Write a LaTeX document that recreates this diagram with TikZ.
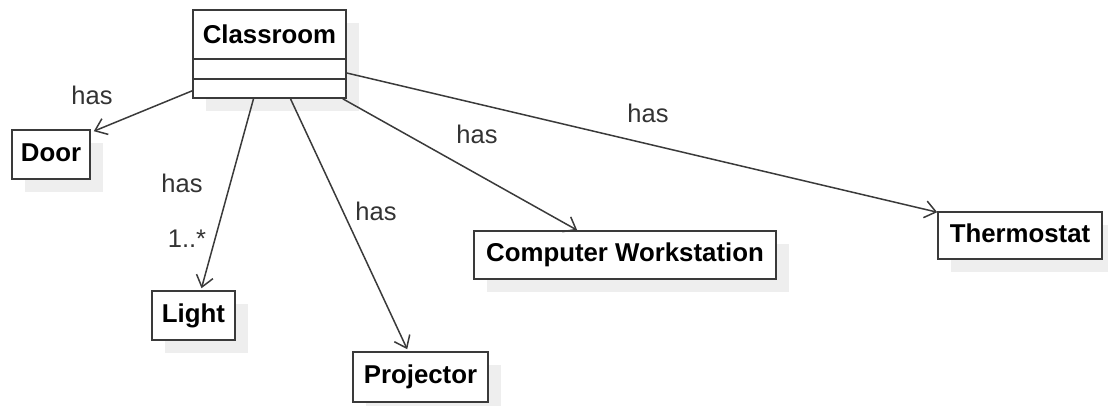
\documentclass[tikz,border=0pt]{standalone}
\usepackage{fontspec}
\setmainfont{Liberation Sans}
\usetikzlibrary{arrows.meta,calc,shadows}
\definecolor{linegray}{HTML}{3A3A3A}
\definecolor{labelgray}{HTML}{333333}
\definecolor{shadowgray}{HTML}{EEEEEE}
\tikzset{
  classbox/.style={draw=linegray, line width=1.6pt, fill=white,
    rectangle, inner sep=0pt, font=\fontsize{25.8}{28}\selectfont\bfseries,
    text height=18pt, text depth=5pt,
    drop shadow={shadow xshift=13pt, shadow yshift=-13pt, fill=shadowgray, opacity=1}},
  assoc/.style={draw=linegray, line width=1.5pt,
    -{Straight Barb[length=11pt,width=17pt,line width=1.5pt]}},
  rolelabel/.style={text=labelgray, font=\fontsize{25.5}{28}\selectfont, anchor=base, inner sep=0pt}
}
\begin{document}
\begin{tikzpicture}[x=1pt, y=-1pt]
\useasboundingbox (0,0) rectangle (1108,405);

% Classroom class with two empty compartments
\node[classbox, minimum width=153pt, minimum height=88pt] (cls) at (269.5,54) {};
\node[inner sep=0pt, font=\fontsize{25.8}{28}\selectfont\bfseries, text height=18pt, text depth=5pt] (clsname) at (269.5,37) {Classroom};
\draw[linegray, line width=1.6pt] ($(cls.north west)+(0,50)$) -- ($(cls.north east)+(0,50)$);
\draw[linegray, line width=1.6pt] ($(cls.north west)+(0,70)$) -- ($(cls.north east)+(0,70)$);

% Associated classes
\node[classbox, minimum width=78pt,  minimum height=49pt] (door)   at (51,154.5)  {Door};
\node[classbox, minimum width=83pt,  minimum height=49pt] (light)  at (193.5,315.5) {Light};
\node[classbox, minimum width=135pt, minimum height=50pt] (proj)   at (420.5,377) {Projector};
\node[classbox, minimum width=302pt, minimum height=48pt] (cw)     at (625,255)   {Computer Workstation};
\node[classbox, minimum width=164pt, minimum height=47pt] (thermo) at (1020,235.5) {Thermostat};

% Associations
\draw[assoc] ($(cls.south west)+(0,-8)$) -- ($(door.north east)+(3,2)$);
\draw[assoc] ($(cls.south)+(-16,0)$) -- ($(light.north)+(8,-2)$);
\draw[assoc] ($(cls.south)+(21,0)$) -- ($(proj.north west)+(55,-2)$);
\draw[assoc] ($(cls.south east)+(-4,0)$) -- ($(cw.north west)+(104,0)$);
\draw[assoc] ($(cls.east)+(0,19)$) -- ($(thermo.north west)+(0,1)$);

% Role labels
\node[rolelabel] (l1) at (92,104)  {has};
\node[rolelabel] (l2) at (182,192) {has};
\node[rolelabel] (m2) at (187,247) {1..*};
\node[rolelabel] (l3) at (376,220) {has};
\node[rolelabel] (l4) at (477,143) {has};
\node[rolelabel] (l5) at (648,122) {has};
\end{tikzpicture}
\end{document}
